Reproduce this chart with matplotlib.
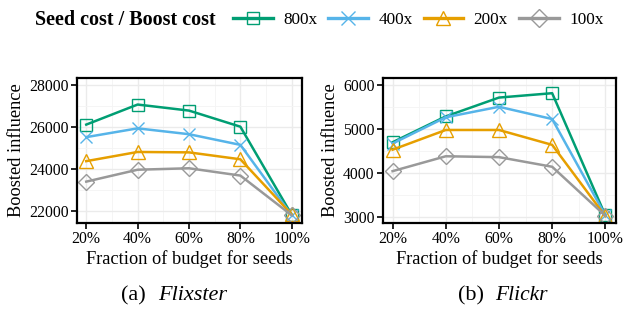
import numpy as np
import matplotlib
matplotlib.use('Agg')
import matplotlib.pyplot as plt
from matplotlib.lines import Line2D
from matplotlib.ticker import MultipleLocator

plt.rcParams['font.family'] = ['Liberation Serif', 'DejaVu Serif']

fractions = ['20%', '40%', '60%', '80%', '100%']
series = ['800x', '400x', '200x', '100x']

flixster_800 = [26120, 27080, 26790, 26020, 21800]
flixster_400 = [25520, 25940, 25660, 25150, 21780]
flixster_200 = [24370, 24810, 24790, 24460, 21820]
flixster_100 = [23390, 23960, 24030, 23680, 21780]

flickr_800 = [4700, 5290, 5720, 5820, 3030]
flickr_400 = [4670, 5270, 5510, 5230, 3030]
flickr_200 = [4530, 4980, 4980, 4640, 3010]
flickr_100 = [4040, 4380, 4360, 4140, 3020]

colors = ['#009E73', '#56B4E9', '#E69F00', '#999999']
markers = ['s', 'x', '^', 'D']
msizes = [8, 9, 9.5, 8.5]

fig = plt.figure(figsize=(6.24, 3.10), dpi=100)
ax1 = fig.add_axes([77/624, 1-223/310, 225/624, 145/310])
ax2 = fig.add_axes([383/624, 1-223/310, 233/624, 145/310])

x = np.arange(1, 6)


def draw(ax, data, ylim, step):
    for vals, c, m, ms in zip(data, colors, markers, msizes):
        ax.plot(x, vals, color=c, lw=1.8, marker=m, ms=ms,
                mfc='none', mec=c, mew=1.0)
    ax.set_xlim(0.82, 5.2)
    ax.set_ylim(*ylim)
    ax.set_xticks(x)
    ax.set_xticklabels(fractions)
    ax.yaxis.set_major_locator(MultipleLocator(step))
    ax.yaxis.set_minor_locator(MultipleLocator(step / 2))
    ax.xaxis.set_minor_locator(MultipleLocator(0.5))
    ax.grid(which='major', color='#EBEBEB', lw=1.0)
    ax.grid(which='minor', color='#F4F4F4', lw=0.6)
    ax.set_axisbelow(True)
    ax.tick_params(which='major', direction='out', length=4, width=1.2,
                   labelsize=11.3, pad=2, colors='black')
    ax.tick_params(which='minor', length=0)
    for s in ax.spines.values():
        s.set_linewidth(1.6)
    ax.set_xlabel('Fraction of budget for seeds', fontsize=13.2, labelpad=2)
    ax.set_ylabel('Boosted influence', fontsize=13.2, labelpad=3)


draw(ax1, [flixster_800, flixster_400, flixster_200, flixster_100],
     (21410, 28350), 2000)
draw(ax2, [flickr_800, flickr_400, flickr_200, flickr_100],
     (2856, 6167), 1000)

handles = [Line2D([], [], color=c, lw=2.4, marker=m, ms=ms * 1.1,
                  mfc='none', mec=c, mew=1.0)
           for c, m, ms in zip(colors, markers, msizes)]
fig.text(35/624, 1-20/310, 'Seed cost / Boost cost', fontsize=14.5,
         fontweight='bold', ha='left', va='center')
fig.legend(handles, series, loc='center left',
           bbox_to_anchor=(233/624, 1-20/310), ncol=4, frameon=False,
           fontsize=12.4, handlelength=2.3, handletextpad=0.6,
           columnspacing=0.65, borderpad=0, borderaxespad=0)

fig.text(151/624, 1-296/310, '(a) ', fontsize=16, ha='right', va='center')
fig.text(158/624, 1-296/310, 'Flixster', fontsize=16, style='italic',
         ha='left', va='center')
fig.text(490/624, 1-296/310, '(b) ', fontsize=16, ha='right', va='center')
fig.text(495/624, 1-296/310, 'Flickr', fontsize=15.5, style='italic',
         ha='left', va='center')

fig.savefig('out.png', dpi=100)
